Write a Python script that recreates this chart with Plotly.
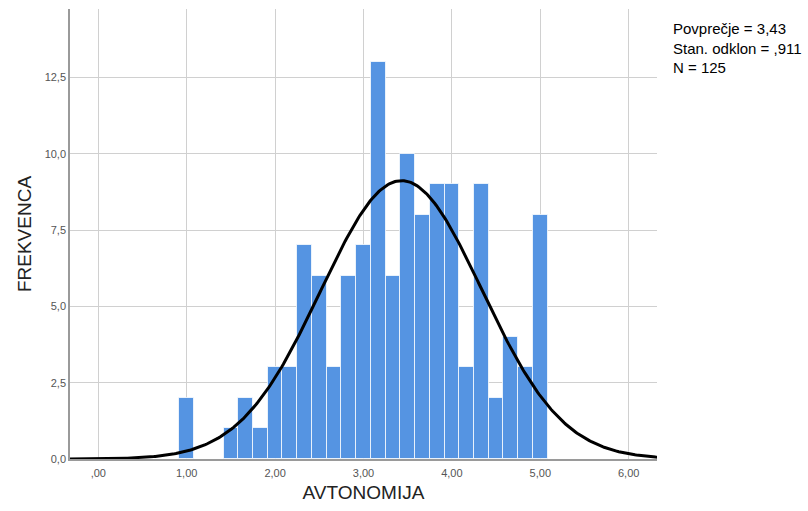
import numpy as np
import plotly.graph_objects as go

# Data (bin width 1/6)
bin_centers = [1.0, 1.5, 1.6667, 1.8333, 2.0, 2.1667, 2.3333, 2.5, 2.6667, 2.8333,
               3.0, 3.1667, 3.3333, 3.5, 3.6667, 3.8333, 4.0, 4.1667, 4.3333, 4.5,
               4.6667, 4.8333, 5.0]
frequencies = [2, 1, 2, 1, 3, 3, 7, 6, 3, 6,
               7, 13, 6, 10, 8, 9, 9, 3, 9, 2,
               4, 3, 8]
bin_width = 1 / 6

# Summary statistics shown in the chart
mean_val = 3.43
sd_val = 0.911
n_val = 125

x_tickvals = [0, 1, 2, 3, 4, 5, 6]
x_ticktext = [",00", "1,00", "2,00", "3,00", "4,00", "5,00", "6,00"]
y_tickvals = [0, 2.5, 5, 7.5, 10, 12.5]
y_ticktext = ["0,0", "2,5", "5,0", "7,5", "10,0", "12,5"]

x_range = [-0.32, 6.32]
y_range = [0, 14.75]

# Fitted normal curve (from the shown mean, sd and N)
xc = np.linspace(x_range[0], x_range[1], 400)
yc = n_val * bin_width / (sd_val * np.sqrt(2 * np.pi)) * np.exp(-0.5 * ((xc - mean_val) / sd_val) ** 2)

FONT = "Arial, Liberation Sans, sans-serif"

fig = go.Figure()
fig.add_trace(go.Bar(
    x=bin_centers, y=frequencies, width=bin_width,
    marker=dict(color="#5594e2", line=dict(color="rgba(255,255,255,0.75)", width=1)),
    showlegend=False, hoverinfo="x+y"))
fig.add_trace(go.Scatter(
    x=xc, y=yc, mode="lines", line=dict(color="black", width=3),
    showlegend=False, cliponaxis=True))

fig.update_layout(
    width=808, height=511,
    margin=dict(l=70, r=151, t=9, b=52),
    paper_bgcolor="white", plot_bgcolor="white",
    bargap=0,
    font=dict(family=FONT, color="#333333"),
    annotations=[dict(
        text="Povprečje = 3,43<br>Stan. odklon = ,911<br>N = 125",
        xref="paper", yref="paper", x=1.0, y=1.0, xshift=14, yshift=-9,
        xanchor="left", yanchor="top", align="left", showarrow=False,
        font=dict(family=FONT, size=15, color="black"))],
)
fig.update_xaxes(
    range=x_range, tickvals=x_tickvals, ticktext=x_ticktext,
    showgrid=True, gridcolor="#d0d0d0", gridwidth=1,
    showline=True, linecolor="#9a9a9a", linewidth=1.5,
    ticks="", ticklabelstandoff=3, tickfont=dict(size=11, color="#555555"),
    title=dict(text="AVTONOMIJA", font=dict(size=19, color="#222222"), standoff=8),
    zeroline=False)
fig.update_yaxes(
    range=y_range, tickvals=y_tickvals, ticktext=y_ticktext,
    showgrid=True, gridcolor="#d0d0d0", gridwidth=1,
    showline=True, linecolor="#9a9a9a", linewidth=1.5,
    ticks="", tickfont=dict(size=11, color="#555555"),
    title=dict(text="FREKVENCA", font=dict(size=19, color="#222222"), standoff=8),
    zeroline=False)

fig.write_html("out.html")
